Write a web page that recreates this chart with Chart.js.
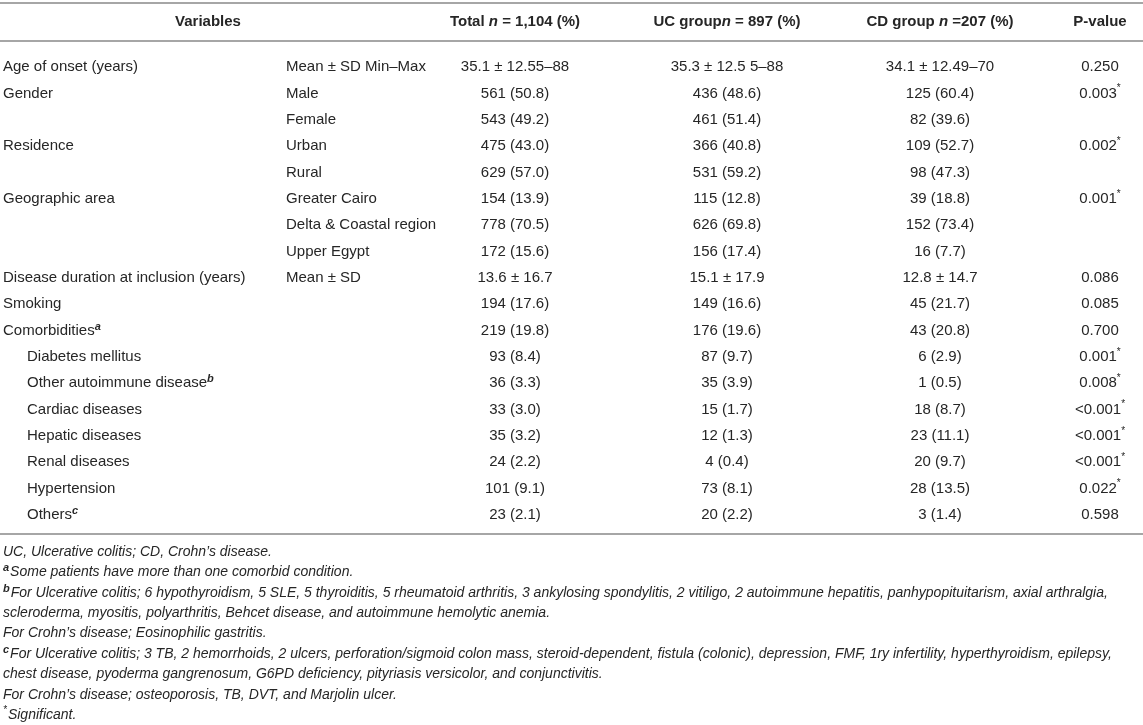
<!DOCTYPE html>
<html lang="en">
<head>
<meta charset="UTF-8">
<title>Patient characteristics</title>
<style>
  html, body { margin: 0; padding: 0; background: #fff; }
  #table { display: block; }
</style>
</head>
<body>
<canvas id="table" width="1143" height="725"></canvas>

<script src="https://cdn.jsdelivr.net/npm/chart.js"></script>
<script>
    // table content, one array per column
    const variables = ['Age of onset (years)', 'Gender', '', 'Residence', '', 'Geographic area', '', '',
        'Disease duration at inclusion (years)', 'Smoking', 'Comorbidities', 'Diabetes mellitus',
        'Other autoimmune disease', 'Cardiac diseases', 'Hepatic diseases', 'Renal diseases',
        'Hypertension', 'Others'];
    const variableNotes = ['', '', '', '', '', '', '', '', '', '', 'a', '', 'b', '', '', '', '', 'c'];
    const indented = [0, 0, 0, 0, 0, 0, 0, 0, 0, 0, 0, 1, 1, 1, 1, 1, 1, 1];
    const subLabels = ['Mean ± SD Min–Max', 'Male', 'Female', 'Urban', 'Rural', 'Greater Cairo',
        'Delta & Coastal region', 'Upper Egypt', 'Mean ± SD', '', '', '', '', '', '', '', '', ''];
    const totalValues = ['35.1 ± 12.55–88', '561 (50.8)', '543 (49.2)', '475 (43.0)', '629 (57.0)',
        '154 (13.9)', '778 (70.5)', '172 (15.6)', '13.6 ± 16.7', '194 (17.6)', '219 (19.8)',
        '93 (8.4)', '36 (3.3)', '33 (3.0)', '35 (3.2)', '24 (2.2)', '101 (9.1)', '23 (2.1)'];
    const ucValues = ['35.3 ± 12.5 5–88', '436 (48.6)', '461 (51.4)', '366 (40.8)', '531 (59.2)',
        '115 (12.8)', '626 (69.8)', '156 (17.4)', '15.1 ± 17.9', '149 (16.6)', '176 (19.6)',
        '87 (9.7)', '35 (3.9)', '15 (1.7)', '12 (1.3)', '4 (0.4)', '73 (8.1)', '20 (2.2)'];
    const cdValues = ['34.1 ± 12.49–70', '125 (60.4)', '82 (39.6)', '109 (52.7)', '98 (47.3)',
        '39 (18.8)', '152 (73.4)', '16 (7.7)', '12.8 ± 14.7', '45 (21.7)', '43 (20.8)',
        '6 (2.9)', '1 (0.5)', '18 (8.7)', '23 (11.1)', '20 (9.7)', '28 (13.5)', '3 (1.4)'];
    const pValues = ['0.250', '0.003', '', '0.002', '', '0.001', '', '', '0.086', '0.085', '0.700',
        '0.001', '0.008', '<0.001', '<0.001', '<0.001', '0.022', '0.598'];
    const significant = [0, 1, 0, 1, 0, 1, 0, 0, 0, 0, 0, 1, 1, 1, 1, 1, 1, 0];

    const headers = [
        [['Variables', 'b']],
        [['Total ', 'b'], ['n', 'bi'], [' = 1,104 (%)', 'b']],
        [['UC group', 'b'], ['n', 'bi'], [' = 897 (%)', 'b']],
        [['CD group ', 'b'], ['n', 'bi'], [' =207 (%)', 'b']],
        [['P-value', 'b']]
    ];

    const footnotes = [
        [['UC, Ulcerative colitis; CD, Crohn’s disease.', 'i']],
        [['a', 'sup'], ['Some patients have more than one comorbid condition.', 'i']],
        [['b', 'sup'], ['For Ulcerative colitis; 6 hypothyroidism, 5 SLE, 5 thyroiditis, 5 rheumatoid arthritis, 3 ankylosing spondylitis, 2 vitiligo, 2 autoimmune hepatitis, panhypopituitarism, axial arthralgia,', 'i']],
        [['scleroderma, myositis, polyarthritis, Behcet disease, and autoimmune hemolytic anemia.', 'i']],
        [['For Crohn’s disease; Eosinophilic gastritis.', 'i']],
        [['c', 'sup'], ['For Ulcerative colitis; 3 TB, 2 hemorrhoids, 2 ulcers, perforation/sigmoid colon mass, steroid-dependent, fistula (colonic), depression, FMF, 1ry infertility, hyperthyroidism, epilepsy,', 'i']],
        [['chest disease, pyoderma gangrenosum, G6PD deficiency, pityriasis versicolor, and conjunctivitis.', 'i']],
        [['For Crohn’s disease; osteoporosis, TB, DVT, and Marjolin ulcer.', 'i']],
        [['*', 'supi'], ['Significant.', 'i']]
    ];

    const rowKeys = variables.map((v, i) => 'r' + i);

    // layout (x in canvas pixels on the linear scale)
    const colX = { variables: 3, indent: 27, sub: 286, total: 515, uc: 727, cd: 940, p: 1100, varHead: 208 };
    const FAMILY = '"Liberation Sans", Arial, Helvetica, sans-serif';
    const TEXT = '#262626';
    const RULE = '#a6a6a6';

    const fonts = {
        r: '15px ' + FAMILY,
        b: 'bold 15px ' + FAMILY,
        bi: 'italic bold 15px ' + FAMILY,
        i: 'italic 14px ' + FAMILY,
        sup: 'italic bold 11px ' + FAMILY,
        supi: 'italic 10px ' + FAMILY,
        star: '10px ' + FAMILY
    };
    const raise = { sup: -4, supi: -5, star: -5 };

    function drawRich(ctx, parts, x, y, align) {
        let width = 0;
        parts.forEach(([t, f]) => { ctx.font = fonts[f]; width += ctx.measureText(t).width; });
        let cx = align === 'center' ? x - width / 2 : (align === 'right' ? x - width : x);
        ctx.textAlign = 'left';
        parts.forEach(([t, f]) => {
            ctx.font = fonts[f];
            ctx.fillText(t, cx, y + (raise[f] || 0));
            cx += ctx.measureText(t).width + (f === 'sup' || f === 'supi' ? 1 : 0);
        });
    }

    const tablePlugin = {
        id: 'tablePlugin',
        afterDraw(chart) {
            const ctx = chart.ctx;
            const xs = chart.scales.x;
            const ys = chart.scales.y;
            const area = chart.chartArea;
            const px = v => xs.getPixelForValue(v);
            ctx.save();
            ctx.fillStyle = TEXT;
            ctx.textBaseline = 'middle';

            // rules
            ctx.strokeStyle = RULE;
            ctx.lineWidth = 2;
            [area.top - 51, area.top - 13, area.bottom + 6].forEach(yy => {
                ctx.beginPath();
                ctx.moveTo(px(0), yy);
                ctx.lineTo(px(1143), yy);
                ctx.stroke();
            });

            // header
            const headY = area.top - 32;
            const headX = [colX.varHead, colX.total, colX.uc, colX.cd, colX.p];
            headers.forEach((h, i) => drawRich(ctx, h, px(headX[i]), headY, 'center'));

            // body rows
            rowKeys.forEach((key, i) => {
                const y = ys.getPixelForValue(i);
                if (variables[i]) {
                    const parts = [[variables[i], 'r']];
                    if (variableNotes[i]) parts.push([variableNotes[i], 'sup']);
                    drawRich(ctx, parts, px(indented[i] ? colX.indent : colX.variables), y, 'left');
                }
                if (subLabels[i]) drawRich(ctx, [[subLabels[i], 'r']], px(colX.sub), y, 'left');
                drawRich(ctx, [[totalValues[i], 'r']], px(colX.total), y, 'center');
                drawRich(ctx, [[ucValues[i], 'r']], px(colX.uc), y, 'center');
                drawRich(ctx, [[cdValues[i], 'r']], px(colX.cd), y, 'center');
                if (pValues[i]) {
                    const parts = [[pValues[i], 'r']];
                    if (significant[i]) parts.push(['*', 'star']);
                    drawRich(ctx, parts, px(colX.p), y, 'center');
                }
            });

            // footnotes
            footnotes.forEach((line, i) => {
                drawRich(ctx, line, px(colX.variables), area.bottom + 24 + i * 20.4, 'left');
            });
            ctx.restore();
        }
    };

    const chart = new Chart(document.getElementById('table'), {
        type: 'scatter',
        data: { datasets: [{ data: [] }] },
        options: {
            responsive: false,
            animation: false,
            layout: { padding: { top: 54, bottom: 197, left: 0, right: 0 } },
            plugins: { legend: { display: false }, tooltip: { enabled: false } },
            scales: {
                x: { type: 'linear', min: 0, max: 1143, display: false },
                y: { type: 'category', labels: rowKeys, offset: true, display: false }
            }
        },
        plugins: [tablePlugin]
    });
</script>
</body>
</html>
